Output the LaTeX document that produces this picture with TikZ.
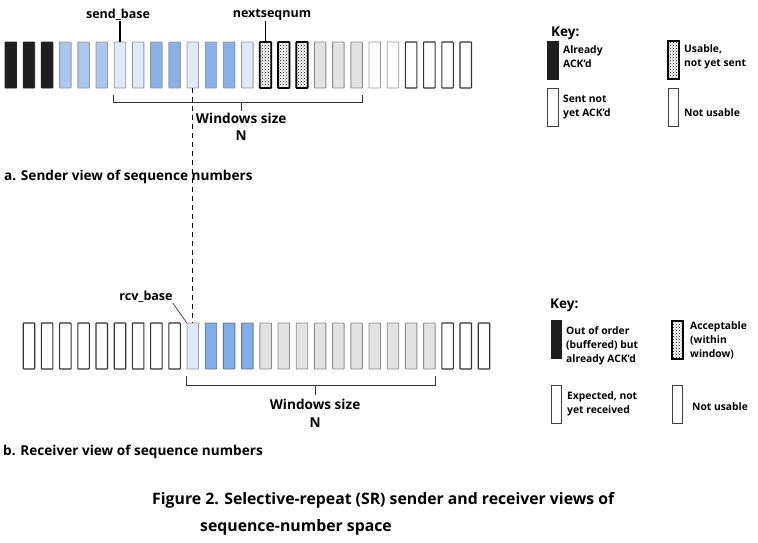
\documentclass[tikz,border=0pt]{standalone}
\usepackage{fontspec}
\setmainfont{Open Sans}
\usetikzlibrary{positioning,calc,patterns}
\definecolor{blueA}{HTML}{A9C7EC}
\definecolor{blueB}{HTML}{86B2E8}
\definecolor{blueR}{HTML}{7EAEEB}
\definecolor{lite}{HTML}{DCEAFA}
\definecolor{idlegrey}{HTML}{E2E2E2}

\tikzset{
  seq/.style={minimum width=11.5pt, minimum height=46pt, inner sep=0pt, line width=0.9pt, rounded corners=0.6pt},
  kbox/.style={minimum width=10.5pt, minimum height=38pt, inner sep=0pt, line width=0.9pt},
  ackd/.style={fill=black!88, draw=black!88},
  sentA/.style={fill=blueA, draw=black!40},
  sentB/.style={fill=blueB, draw=black!40},
  sentR/.style={fill=blueR, draw=black!55},
  litebox/.style={fill=lite, draw=black!40},
  usable/.style={draw=black, line width=1.7pt, pattern=crosshatch dots, pattern color=black},
  idle/.style={fill=idlegrey, draw=black!45},
  freeg/.style={fill=white, draw=black!40},
  free/.style={fill=white, draw=black!80, line width=1.1pt},
  lbl/.style={font=\bfseries\fontsize{12.5}{14}\selectfont, inner sep=0pt},
  biglbl/.style={font=\bfseries\fontsize{13.6}{16}\selectfont, inner sep=0pt},
  keytxt/.style={font=\bfseries\fontsize{10.3}{14}\selectfont, align=left, anchor=west, inner sep=0pt},
  brk/.style={line width=1.1pt, draw=black!80},
}

\begin{document}
\begin{tikzpicture}[x=1pt,y=-1pt,>=stealth]
\useasboundingbox (0,0) rectangle (758,542);

% sender row
\foreach \st [count=\i from 0] in {ackd,ackd,ackd,sentA,sentA,sentA,litebox,litebox,sentB,sentB,litebox,sentB,sentB,litebox,usable,usable,usable,idle,idle,idle,freeg,freeg,free,free,free,free}
  \node (s\i) at (10.75+18.2*\i,65) [seq,\st] {};

% receiver row
\foreach \st [count=\i from 0] in {free,free,free,free,free,free,free,free,free,litebox,sentR,sentR,sentR,idle,idle,idle,idle,idle,idle,idle,idle,idle,idle,free,free,free}
  \node (r\i) at (28.95+18.2*\i,346) [seq,\st] {};

% pointers
\node (sb) at (118,15) [lbl] {send\_base};
\node (nq) at (272,15) [lbl] {nextseqnum};
\node (rb) at (146,297) [lbl] {rcv\_base};
\draw[line width=1.2pt] (s6.north |- sb.south) -- (s6.north);
\draw[line width=1.2pt] (s14.north) -- (s14.north |- nq.south);
\draw[line width=0.8pt, black!70] (rb.south east) -- (r9.north west);
\draw[line width=1.4pt, dash pattern=on 5pt off 4pt] (s10.south) -- (r9.north);

% sender window
\draw[brk] ([yshift=-7pt]s6.south west) -- ++(0,6.7) -| ([yshift=-7pt]s19.south east);
\coordinate (sm) at ($(s6.south west)!0.5!(s19.south east)+(3,13.7)$);
\draw[brk] (sm) -- ++(0,8.5);
\node (sws) [biglbl, below=11pt of sm] {Windows size};
\node (sn) [biglbl, below=7pt of sws] {N};
\node (sv) at (4,177) [biglbl, anchor=west] {a. Sender view of sequence numbers};

% receiver window
\draw[brk] ([yshift=-7pt]r9.south west) -- ++(0,9) -| ([yshift=-7pt]r22.south east);
\coordinate (rm) at ($(r9.south west)!0.5!(r22.south east)+(4,16)$);
\draw[brk] (rm) -- ++(0,9.5);
\node (rws) [biglbl, below=14pt of rm] {Windows size};
\node (rn) [biglbl, below=7pt of rws] {N};
\node (rv) at (3,452) [biglbl, anchor=west] {b. Receiver view of sequence numbers};

% sender key
\node (skey) at (551,33) [lbl, anchor=west, font=\bfseries\fontsize{13.5}{15}\selectfont] {Key:};
\node (k1) at (553,60) [kbox,ackd] {};
\node (k2) at (673.5,60) [kbox,usable] {};
\node (k3) at (553,107.5) [kbox,draw=black!75,fill=white] {};
\node (k4) at (673.5,107.5) [kbox,draw=black!75,fill=white] {};
\node (t1) at (563,57) [keytxt] {Already\\ACK'd};
\node (t2) at (684,57) [keytxt] {Usable,\\not yet sent};
\node (t3) at (563,107) [keytxt] {Sent not\\yet ACK'd};
\node (t4) at (684,113) [keytxt] {Not usable};

% receiver key
\node (rkey) at (550,305) [lbl, anchor=west, font=\bfseries\fontsize{13.5}{15}\selectfont] {Key:};
\node (k5) at (556.5,339.5) [kbox,ackd] {};
\node (k6) at (677.5,340) [kbox,usable] {};
\node (k7) at (556.5,404) [kbox,draw=black!75,fill=white] {};
\node (k8) at (677.5,404.5) [kbox,draw=black!75,fill=white] {};
\node (t5) at (566,346) [keytxt] {Out of order\\(buffered) but\\already ACK'd};
\node (t6) at (690,340) [keytxt] {Acceptable\\(within\\window)};
\node (t7) at (567,404) [keytxt] {Expected, not\\yet received};
\node (t8) at (692,407) [keytxt] {Not usable};

% caption
\node (cap1) at (152,500) [lbl, anchor=west, font=\bfseries\fontsize{15.8}{18}\selectfont] {Figure 2. Selective-repeat (SR) sender and receiver views of};
\node (cap2) at (200,527) [lbl, anchor=west, font=\bfseries\fontsize{15.8}{18}\selectfont] {sequence-number space};
\end{tikzpicture}
\end{document}
